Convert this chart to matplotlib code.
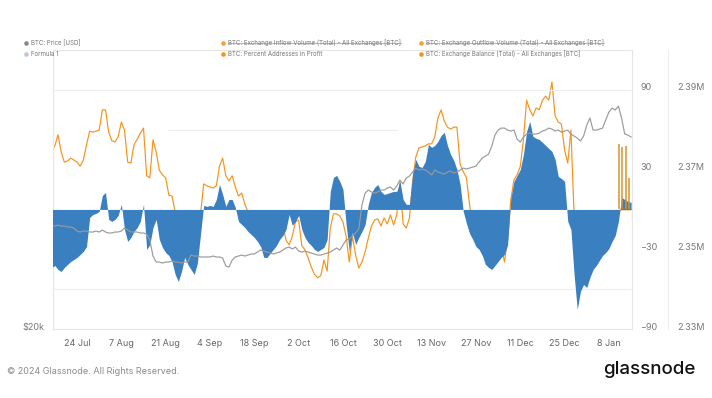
import pandas as pd
import matplotlib
matplotlib.use('Agg')
import matplotlib.pyplot as plt
import matplotlib.dates as mdates
from matplotlib.lines import Line2D
from matplotlib.transforms import ScaledTranslation

plt.rcParams['font.family'] = ['Inter', 'DejaVu Sans']

# daily values, 16 Jul 2023 .. 15 Jan 2024
start = '2023-07-16'

formula_1 = [
    -43.7, -42.2, -45.2, -46.7, -43.7, -41.4, -39.2, -37.7, -36.1, -33.9,
    -31.6, -27.9, -6.0, -3.8, -3.0, -1.5, 10.5, 12.8, -7.5, -9.0,
    -7.5, -4.5, 3.8, -15.1, -24.1, -21.1, -16.6, -13.6, -9.0, 3.8,
    -30.1, -26.4, -13.6, -7.5, -22.6, -28.6, -32.4, -34.6, -39.2, -48.9,
    -54.2, -46.7, -36.1, -41.4, -45.2, -48.9, -40.7, -18.8, 3.0, 2.3,
    3.0, 2.3, 7.5, 18.8, 11.3, 2.3, 7.5, 7.5, 1.5, -9.0,
    -11.3, -13.6, -16.6, -18.8, -21.1, -24.1, -27.9, -36.1, -36.1, -33.1,
    -30.1, -27.1, -22.6, -19.6, -15.1, -3.8, -12.0, -9.0, -4.5, -15.1,
    -21.1, -24.8, -27.1, -30.1, -31.6, -30.1, -28.6, -22.6, 13.6, 24.1,
    25.6, 21.1, 15.1, -11.3, -31.6, -17.3, -26.4, -21.1, -16.6, -11.3,
    3.8, 12.8, 16.6, 18.8, 13.6, 11.3, 12.0, 12.8, 13.6, 13.6,
    21.1, 7.5, 3.8, 3.8, 26.4, 37.7, 32.4, 31.6, 36.1, 48.9,
    46.7, 48.2, 51.2, 55.7, 58.0, 48.2, 41.4, 36.9, 30.1, 18.8,
    -1.5, -10.5, -18.1, -22.6, -27.9, -30.1, -34.6, -41.4, -43.7, -45.2,
    -42.2, -39.2, -36.1, -33.9, -26.4, 8.0, 21.1, 25.6, 30.1, 41.4,
    58.7, 66.3, 55.0, 53.5, 52.7, 50.5, 48.2, 45.9, 43.7, 37.7,
    24.8, 23.3, 21.1, -9.0, -15.1, -48.9, -75.3, -61.7, -56.5, -58.7,
    -51.2, -45.2, -42.2, -38.4, -34.6, -32.4, -29.4, -24.1, -19.6, -9.0,
    9.0, 7.5, 6.0, 5.3,
]

pct_in_profit = [
    75.3, 76.1, 78.3, 74.9, 72.9, 73.1, 73.7, 73.3, 72.9, 72.1,
    73.3, 76.3, 79.0, 78.8, 79.0, 79.2, 83.2, 83.2, 78.8, 77.1,
    76.9, 77.9, 80.8, 79.2, 72.9, 72.7, 76.3, 77.4, 78.6, 79.6,
    70.2, 69.8, 77.3, 74.9, 71.3, 70.4, 69.8, 66.4, 66.2, 63.1,
    60.5, 59.5, 59.1, 59.1, 58.5, 58.5, 59.5, 62.5, 68.6, 68.2,
    68.0, 67.8, 68.2, 72.1, 73.7, 70.2, 69.2, 70.2, 68.0, 66.2,
    66.8, 64.6, 63.1, 61.1, 59.9, 59.1, 57.9, 57.5, 57.1, 57.5,
    57.9, 57.1, 58.3, 60.7, 57.5, 56.6, 58.3, 61.1, 61.5, 56.4,
    55.6, 54.0, 52.2, 50.8, 50.1, 50.5, 53.6, 51.4, 59.9, 62.7,
    62.7, 62.3, 61.1, 58.3, 53.2, 58.3, 54.6, 52.0, 53.2, 55.2,
    57.9, 60.3, 61.5, 61.7, 60.3, 61.9, 60.7, 62.5, 60.5, 62.5,
    69.0, 60.7, 59.9, 61.9, 69.0, 73.9, 75.7, 75.9, 76.1, 76.5,
    76.5, 77.9, 81.6, 83.2, 81.0, 79.8, 79.4, 79.8, 79.8, 72.5,
    71.0, 69.8, 64.4, 60.5, 58.5, 57.5, 56.6, 55.6, 54.6, 54.6,
    55.6, 57.5, 56.6, 53.2, 57.5, 65.4, 69.4, 70.4, 72.0, 77.3,
    85.1, 83.2, 82.0, 83.6, 83.2, 85.1, 85.9, 85.1, 88.7, 82.0,
    80.8, 80.4, 75.3, 72.7, 79.2, 62.5, 57.5, 56.6, 56.6, 57.5,
    57.5, 57.9, 58.3, 58.7, 59.1, 59.5, 59.9, 60.3, 61.1, 63.1,
    63.5, 63.5, 63.5, 63.5,
]

price_k = [
    29.81, 29.81, 29.93, 29.81, 29.81, 29.70, 29.70, 29.58, 29.24, 29.13,
    29.24, 29.24, 29.13, 29.13, 29.24, 29.13, 29.35, 29.13, 29.02, 29.02,
    29.13, 29.13, 29.24, 29.58, 29.35, 29.13, 29.13, 29.13, 29.02, 29.02,
    28.90, 28.24, 26.54, 25.93, 25.93, 25.83, 25.93, 25.93, 26.03, 25.93,
    25.93, 25.83, 25.93, 25.93, 26.64, 26.54, 26.54, 26.44, 26.44, 26.44,
    26.44, 26.54, 26.44, 26.44, 26.34, 25.53, 25.43, 26.13, 26.44, 26.54,
    26.64, 26.54, 26.64, 26.75, 26.75, 26.95, 27.16, 27.06, 26.95, 26.85,
    26.75, 26.85, 26.95, 27.16, 27.38, 27.48, 27.27, 27.48, 27.06, 26.95,
    27.06, 26.95, 26.85, 26.75, 26.64, 26.64, 26.75, 26.85, 26.95, 27.16,
    27.38, 27.16, 27.70, 28.24, 28.35, 28.68, 29.02, 29.47, 32.34, 33.88,
    34.28, 34.02, 33.88, 34.02, 34.28, 34.28, 34.55, 34.68, 34.28, 34.82,
    35.63, 35.09, 35.91, 36.19, 36.76, 37.33, 37.04, 37.19, 37.04, 36.76,
    36.33, 37.04, 36.76, 36.61, 36.47, 36.76, 36.90, 36.61, 36.76, 37.04,
    37.33, 37.19, 37.33, 37.48, 37.62, 38.21, 38.81, 39.11, 39.41, 40.65,
    42.42, 43.25, 43.59, 43.59, 43.25, 43.09, 43.25, 41.77, 41.29, 42.10,
    42.59, 42.75, 42.59, 42.59, 42.75, 43.09, 43.25, 43.59, 43.42, 43.09,
    43.25, 42.92, 43.09, 43.25, 42.59, 42.26, 41.93, 41.45, 42.26, 44.10,
    45.31, 43.25, 43.25, 43.42, 43.59, 44.96, 46.38, 47.10, 46.74, 47.47,
    45.31, 42.59, 42.42, 42.10,
]

spike_dates = ['2024-01-11 05:00', '2024-01-12 02:00', '2024-01-13 10:00', '2024-01-14 07:00']
spike_balance = [2.3763e6, 2.3756e6, 2.3758e6, 2.3680e6]

tick_dates = pd.date_range('2023-07-24', '2024-01-08', freq='14D')

dates = pd.date_range(start, periods=len(formula_1), freq='D')
price = [p * 1000 for p in price_k]

W, H = 712, 398
fig = plt.figure(figsize=(W / 100, H / 100), dpi=100)
ax_o = fig.add_axes([53 / W, 1 - 329 / H, 579 / W, 279 / H])
ax = ax_o.twinx()
ax_p = ax_o.twinx()
ax_b = ax_o.twinx()

# orange (bottom layer)
ax_o.plot(dates, pct_in_profit, color='#f7931a', lw=0.85)
ax_o.set_ylim(40, 95)
ax_o.set_yticks([])
ax_o.tick_params(left=False, labelleft=False)
for s in ax_o.spines.values():
    s.set_color('#e6e6e6')
    s.set_linewidth(0.8)

# blue area
ax.fill_between(dates, 0, formula_1, color='#3a7fc0', lw=0, zorder=2)
ax.axhline(90, color='#eeeeee', lw=0.8, zorder=0)
ax.axhline(60, xmin=0.2, xmax=0.594, color='#eeeeee', lw=0.8, zorder=0)
ax.axhline(-60, color='#eeeeee', lw=0.8, zorder=0)
ax.set_ylim(-90, 120)
ax.set_yticks([-90, -30, 30, 90])
ax.tick_params(axis='y', length=0, pad=6, labelsize=6.5, labelcolor='#777777')

# price line (log)
ax_p.plot(dates, price, color='#9a9a9a', lw=0.85)
ax_p.set_yscale('log')
ax_p.set_ylim(20000, 59000)
ax_p.yaxis.tick_left()
ax_p.set_yticks([20000])
ax_p.set_yticklabels(['$20k'])
ax_p.yaxis.set_minor_locator(matplotlib.ticker.NullLocator())
ax_p.tick_params(axis='y', length=0, pad=6.5, labelsize=6.5, labelcolor='#777777')

# balance axis + spikes
ax_b.vlines(pd.to_datetime(spike_dates), 2.36e6, spike_balance, color='#d9932b', lw=1.1)
ax_b.set_ylim(2.33e6, 2.40e6)
ax_b.set_yticks([2.33e6, 2.35e6, 2.37e6, 2.39e6])
ax_b.set_yticklabels(['2.33M', '2.35M', '2.37M', '2.39M'])
ax_b.spines['right'].set_position(('outward', 26))
ax_b.spines['right'].set_color('#eeeeee')
ax_b.tick_params(axis='y', length=0, pad=6.5, labelsize=6.5, labelcolor='#777777')

for a in (ax, ax_p, ax_b):
    for k in ('top', 'bottom', 'left'):
        a.spines[k].set_visible(False)
for a in (ax, ax_p):
    a.spines['right'].set_visible(False)

shift = ScaledTranslation(0, 3 / 100, fig.dpi_scale_trans)
for a in (ax, ax_p, ax_b):
    for lab in a.get_yticklabels():
        lab.set_transform(lab.get_transform() + shift)

ax_o.set_xlim(pd.Timestamp('2023-07-16 10:00'), pd.Timestamp('2024-01-15 07:00'))
ax_o.set_xticks(tick_dates)
ax_o.xaxis.set_major_formatter(mdates.DateFormatter('%-d %b'))
ax_o.tick_params(axis='x', length=0, pad=7, labelsize=6.5, labelcolor='#666666')

# legend
legend = [
    (26, 43, '#888888', 'BTC: Price [USD]', False),
    (223, 43, '#f5a03c', 'BTC: Exchange Inflow Volume (Total) - All Exchanges [BTC]', True),
    (421, 43, '#f5a03c', 'BTC: Exchange Outflow Volume (Total) - All Exchanges [BTC]', True),
    (26, 54, '#bcc8da', 'Formula 1', False),
    (223, 54, '#f7931a', 'BTC: Percent Addresses in Profit', False),
    (421, 54, '#f7931a', 'BTC: Exchange Balance (Total) - All Exchanges [BTC]', False),
]
texts = []
for x, y, c, label, struck in legend:
    fig.add_artist(Line2D([x / W], [1 - y / H], marker='o', ms=3.3, color=c,
                          mec='none', transform=fig.transFigure))
    t = fig.text((x + 5) / W, 1 - y / H, label, fontsize=4.4, color='#777777', va='center')
    texts.append((t, struck))

fig.text(7 / W, 1 - 371 / H, '\u00a9 2024 Glassnode. All Rights Reserved.',
         fontsize=6.5, color='#8a8a8a', va='center')
fig.text(696 / W, 1 - 369 / H, 'glassnode', fontsize=13.5, color='#111111',
         ha='right', va='center', fontweight='medium')

fig.canvas.draw()
r = fig.canvas.get_renderer()
for t, struck in texts:
    if struck:
        bb = t.get_window_extent(r)
        ym = (bb.y0 + bb.y1) / 2
        fig.add_artist(Line2D([bb.x0 / W, bb.x1 / W], [ym / H, ym / H], color='#999999',
                              lw=0.5, transform=fig.transFigure))

fig.savefig('out.png', dpi=100)
